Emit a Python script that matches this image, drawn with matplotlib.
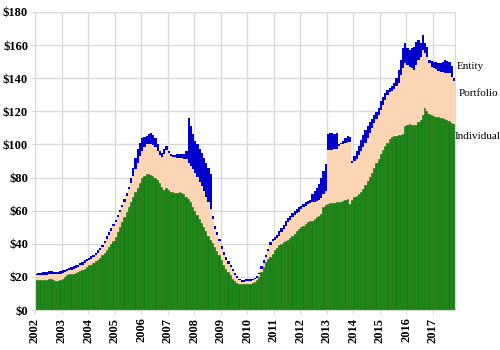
import numpy as np
import matplotlib
matplotlib.use("Agg")
import matplotlib.pyplot as plt

START_YEAR = 2002  # monthly bars, Jan 2002 .. Oct 2017

# top of the green stack (Individual)
individual = [
    18, 18, 18, 18, 18, 18, 18.5, 18.5, 18, 17.5, 17.5, 18,              # 2002
    19, 20, 21, 21.5, 22, 22, 22.5, 23, 23.5, 24.5, 25, 26,              # 2003
    27, 27.5, 28.5, 29.5, 30.5, 31.5, 33, 34.5, 36, 38, 40, 42,          # 2004
    44, 47, 50, 53, 56, 59, 62, 65, 68, 71, 74, 77,                      # 2005
    79.5, 81, 82, 82, 81.5, 81, 80, 78.5, 77, 74.5, 72.5, 74,            # 2006
    72.5, 71.5, 71, 70.5, 70.5, 71, 70.5, 70, 68.5, 67, 65, 62.5,        # 2007
    60, 57.5, 55, 52.5, 50, 47.5, 45, 42.5, 40.5, 38, 35.5, 33,          # 2008
    30, 27.5, 25, 23, 21, 19, 17.5, 16.5, 15.5, 15.5, 15.5, 16,          # 2009
    16, 16, 16.5, 17, 18, 20, 23, 26, 29, 31, 32, 34,                    # 2010
    36, 37.5, 39, 40, 41, 42, 42.5, 43.5, 45, 46, 47.5, 49,              # 2011
    50, 51, 52, 53, 53.5, 54, 55, 56, 57, 58, 62.5, 63.5,                # 2012
    64, 64.5, 64.5, 64.5, 65, 65, 65.5, 66, 66.5, 67, 64, 66.5,          # 2013
    68, 69, 70, 71.5, 73, 75.5, 78, 80.5, 83, 85.5, 88.5, 91.5,          # 2014
    94, 96.5, 99, 101, 103, 104.5, 105, 105, 105.5, 105.5, 106, 111,     # 2015
    112, 112.5, 112, 111.5, 112, 113.5, 115, 118, 122, 120, 118.5, 117.5,  # 2016
    117, 116.5, 116.5, 116, 116, 115.5, 115, 114, 113, 112.5,            # 2017
]

# top of the peach stack (Individual + Portfolio)
portfolio_top = [
    21, 21, 21, 21, 21, 21, 21.5, 21.5, 21.5, 21.5, 21.5, 22,
    22.5, 23, 23.5, 24, 24.5, 25, 25.5, 26, 27, 27.5, 28.5, 29.5,
    30, 31, 32, 33, 34.5, 36, 38, 40.5, 43, 45.5, 48, 50.5,
    53, 56, 59, 62, 65.5, 69, 73, 77, 81, 85, 89, 93,
    96, 98.5, 100, 100.5, 100, 99.5, 98.5, 96, 93.5, 92.5, 94, 96.5,
    95, 93, 92.5, 92.5, 92, 92, 92, 91.5, 91, 89, 87, 85,
    83, 80.5, 77.5, 75, 72, 68.5, 65, 61, 55, 49, 45.5, 41.5,
    37, 33.5, 30.5, 28, 26, 23.5, 21, 19.5, 18, 17, 17, 17.5,
    17.5, 17.5, 18, 18.5, 19.5, 21.5, 25, 28.5, 32, 35.5, 39.5, 41.5,
    42.5, 43.5, 45, 47, 49, 51, 53, 54.5, 56, 57.5, 58.5, 59.5,
    61, 62, 63, 64, 64.5, 65, 65.5, 66, 66.5, 67.5, 70, 72,
    96.5, 96.5, 96.5, 97, 97, 99, 100, 100.5, 101, 101.5, 101.5, 89,
    90, 91.5, 93.5, 96, 98.5, 101, 104, 107, 110, 113, 115.5, 118,
    121, 124, 127, 130, 131.5, 132.5, 133.5, 135, 137, 142, 146, 149,
    148, 147, 146, 145, 148, 151, 153, 157, 155, 153, 149, 147,
    146, 145.5, 144.5, 144, 143.5, 143, 143, 143, 141, 138.5,
]

# top of the blue stack (total incl. Entity)
entity_top = [
    22, 22.5, 22.5, 23, 23, 23, 23.5, 23.5, 23, 23, 23, 23.5,
    24, 24.5, 25, 25.5, 26, 26.5, 27, 27.5, 28.5, 29, 30, 31,
    31.5, 32.5, 33.5, 34.5, 36, 37.5, 39.5, 42, 44.5, 47, 49.5, 52,
    54.5, 57.5, 60.5, 63.5, 67, 70.5, 74.5, 80, 86, 92, 97, 101,
    104, 104.5, 105, 106, 107, 105.5, 104, 100, 96, 95, 97.5, 99,
    96, 94, 93.5, 93.5, 94, 94.5, 94.5, 94.5, 96, 116, 111, 106,
    102, 100, 97, 95, 92, 89, 86, 82, 56.5, 50.5, 47, 43,
    38.5, 35, 32, 29.5, 27.5, 25, 22.5, 20.5, 19, 18, 18, 18.5,
    18.5, 18.5, 19, 19.5, 20.5, 22.5, 26.5, 30, 33.5, 37, 41, 43,
    44, 45.5, 47.5, 49.5, 51.5, 53.5, 55.5, 57, 58.5, 60, 61, 62,
    63, 64, 65, 66, 66.5, 70, 72, 74, 76, 80, 84, 88,
    106.5, 107, 107, 106.5, 107, 100.5, 101, 102, 104, 105, 104.5, 90,
    93, 96, 99, 102.5, 105.5, 108.5, 111, 113.5, 115.5, 117.5, 119.5, 122,
    126, 128.5, 131, 133, 134, 135.5, 137, 140, 145, 151, 158, 161,
    158, 157, 158.5, 159, 162, 163, 161, 166, 161, 159, 151, 150.5,
    150, 149.5, 149, 149, 150, 151, 150.5, 150, 147.5, 140,
]

year_ticks = list(range(2002, 2018))
y_ticks = list(range(0, 181, 20))
series_labels = ["Entity", "Portfolio", "Individual"]
label_levels = [147, 131, 104.5]

GREEN = "#117f11"
PEACH = "#fcd5b5"
BLUE = "#0000cc"
GRID = "#d9d9d9"

x = START_YEAR + np.arange(len(individual)) / 12
portfolio = np.array(portfolio_top) - np.array(individual)
entity = np.array(entity_top) - np.array(portfolio_top)

fig = plt.figure(figsize=(5, 3.5), dpi=100)
ax = fig.add_axes([0.07, 0.114, 0.84, 0.852])

w = 1 / 12
ax.bar(x, individual, width=w, align="edge", color=GREEN,
       edgecolor="#4e8f30", linewidth=0.3)
ax.bar(x, portfolio, bottom=individual, width=w, align="edge",
       color=PEACH, edgecolor=PEACH, linewidth=0.2)
ax.bar(x, entity, bottom=portfolio_top, width=w, align="edge",
       color=BLUE, linewidth=0)

ax.set_xlim(START_YEAR, x[-1] + w)
ax.set_ylim(0, 180)

serif = "Liberation Serif"
ax.tick_params(axis="both", color=GRID, length=3, pad=2)
ax.set_xticks(year_ticks)
ax.set_xticklabels([])
# year labels drawn as vertical text under each tick
for yr in year_ticks:
    ax.text(yr, -0.025, str(yr), transform=ax.get_xaxis_transform(),
            rotation=90, rotation_mode="default", ha="center", va="top",
            fontfamily=serif, fontweight="bold", fontsize=9)
ax.set_yticks(y_ticks)
ax.set_yticklabels([f"${v}" for v in y_ticks],
                   fontfamily=serif, fontweight="bold", fontsize=9)

ax.set_axisbelow(True)
ax.grid(True, color=GRID, linewidth=1)
for side in ["left", "right", "top", "bottom"]:
    ax.spines[side].set_color(GRID)

x_offsets = [1.004, 1.008, 1.0]
for lab, lev, xo in zip(series_labels, label_levels, x_offsets):
    ax.text(xo, lev, lab, transform=ax.get_yaxis_transform(),
            fontfamily=serif, fontsize=8, va="center", ha="left",
            clip_on=False)

fig.savefig("out.png", dpi=100)
